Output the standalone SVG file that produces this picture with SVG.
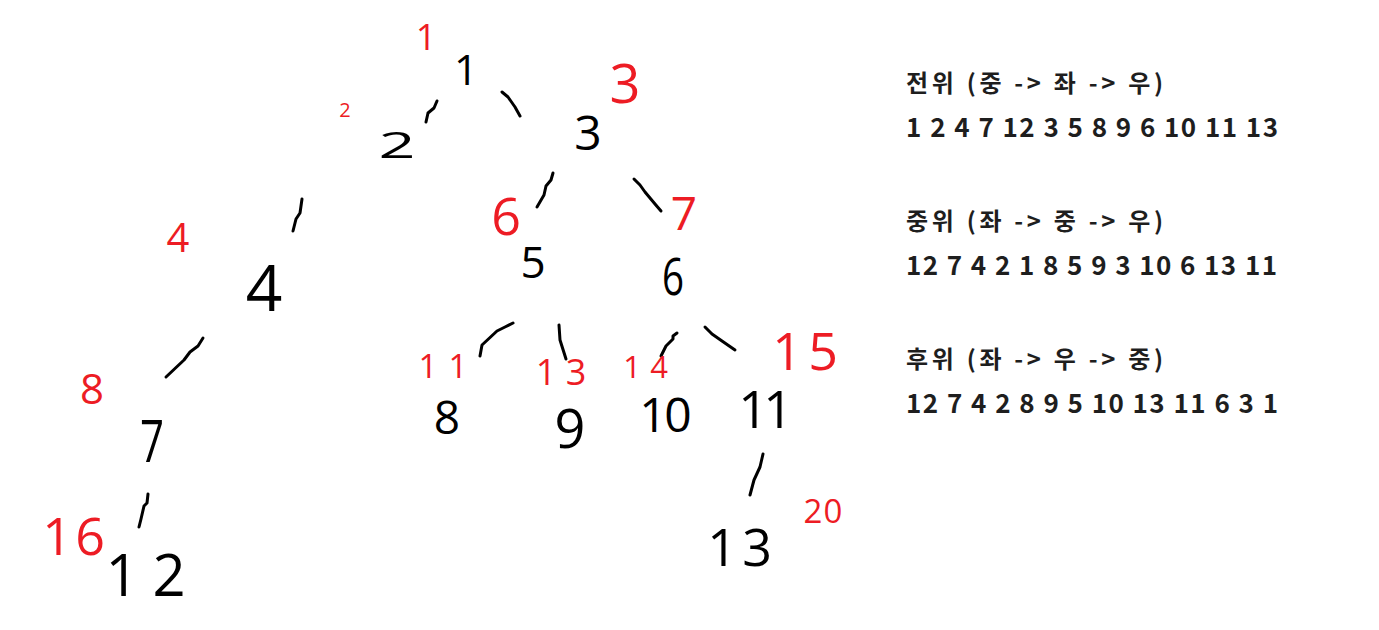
<svg xmlns="http://www.w3.org/2000/svg" width="1379" height="630" viewBox="0 0 1379 630">
<style>
.bg{fill:#ffffff}
.n{font-family:"Open Sans","Liberation Sans",sans-serif;font-weight:400;fill:#000;text-anchor:middle}
.r{font-family:"Open Sans","Liberation Sans",sans-serif;font-weight:400;fill:#ed1c24;text-anchor:middle}
.e{fill:none;stroke:#000;stroke-width:3;stroke-linecap:round;stroke-linejoin:round}
.h{font-family:"Malgun Gothic","Noto Sans CJK KR",sans-serif;font-weight:700;font-size:24px;fill:#1e1e1e}
.d{font-family:"Malgun Gothic","Noto Sans CJK KR",sans-serif;font-weight:700;font-size:26px;fill:#1e1e1e}
</style>
<rect class="bg" x="0" y="0" width="1379" height="630"/>
<g id="connectors">
<path class="e" d="M437,101 L434,108 L428,113 L426,122"/>
<path class="e" d="M502,92 L508,97 L515,107 L520,116"/>
<path class="e" d="M553,173 L551,180 L546,186 L544,195 L537,207"/>
<path class="e" d="M634,179 L640,185 L645,192 L655,204 L661,211"/>
<path class="e" d="M302,199 L300,213 L296,219 L293,231"/>
<path class="e" d="M203,338 L198,346 L190,352 L184,360 L166,377"/>
<path class="e" d="M148,494 L147,503 L144,506 L141,519 L139,527"/>
<path class="e" d="M513,323 L505,327 L497,331 L482,345 L480,356"/>
<path class="e" d="M559,325 L560,340 L566,359"/>
<path class="e" d="M677,333 L673,336 L673,339 L666,346 L661,356"/>
<path class="e" d="M705,327 L712,334 L722,341 L735,350"/>
<path class="e" d="M763,454 L760,467 L754,480 L750,495"/>
</g>
<g id="node1"><text class="n" x="466" y="85" font-size="42">1</text><text class="r" x="426" y="50" font-size="36">1</text></g>
<g id="node2"><text class="n" x="397" y="158" font-size="36" textLength="37" lengthAdjust="spacingAndGlyphs">2</text><text class="r" x="345" y="117" font-size="20" font-weight="700">2</text></g>
<g id="node3"><text class="n" x="588" y="150" font-size="48">3</text><text class="r" x="625" y="103" font-size="54">3</text></g>
<g id="node4"><text class="n" x="264" y="311" font-size="64">4</text><text class="r" x="178" y="252" font-size="40">4</text></g>
<g id="node5"><text class="n" x="533" y="278" font-size="44">5</text><text class="r" x="506" y="235" font-size="52">6</text></g>
<g id="node6"><text class="n" x="673" y="295" font-size="52" textLength="22" lengthAdjust="spacingAndGlyphs">6</text><text class="r" x="684" y="230" font-size="46">7</text></g>
<g id="node7"><text class="n" x="152" y="462" font-size="58" textLength="24" lengthAdjust="spacingAndGlyphs">7</text><text class="r" x="92" y="404" font-size="42">8</text></g>
<g id="node8"><text class="n" x="447" y="434" font-size="46">8</text><text class="r" x="428 458" y="378" font-size="33">11</text></g>
<g id="node9"><text class="n" x="570" y="448" font-size="54">9</text><text class="r" x="546 576" y="385" font-size="36">13</text></g>
<g id="node10"><text class="n" x="653 678" y="432" font-size="48">10</text><text class="r" x="632 659" y="378" font-size="31">14</text></g>
<g id="node11"><text class="n" x="753 778" y="428" font-size="52">11</text><text class="r" x="787 823" y="370" font-size="52">15</text></g>
<g id="node12"><text class="n" x="122 169" y="596" font-size="58">12</text><text class="r" x="57 90" y="555" font-size="52">16</text></g>
<g id="node13"><text class="n" x="722 757" y="566" font-size="52">13</text><text class="r" x="813 833" y="523" font-size="33">20</text></g>
<g id="legend">
<text class="h" x="906" y="92" textLength="257" lengthAdjust="spacing">전위 (중 -&gt; 좌 -&gt; 우)</text>
<text class="d" x="906" y="137" textLength="372" lengthAdjust="spacing">1 2 4 7 12 3 5 8 9 6 10 11 13</text>
<text class="h" x="906" y="230" textLength="257" lengthAdjust="spacing">중위 (좌 -&gt; 중 -&gt; 우)</text>
<text class="d" x="906" y="275" textLength="371" lengthAdjust="spacing">12 7 4 2 1 8 5 9 3 10 6 13 11</text>
<text class="h" x="906" y="368" textLength="257" lengthAdjust="spacing">후위 (좌 -&gt; 우 -&gt; 중)</text>
<text class="d" x="906" y="413" textLength="372" lengthAdjust="spacing">12 7 4 2 8 9 5 10 13 11 6 3 1</text>
</g>
</svg>
